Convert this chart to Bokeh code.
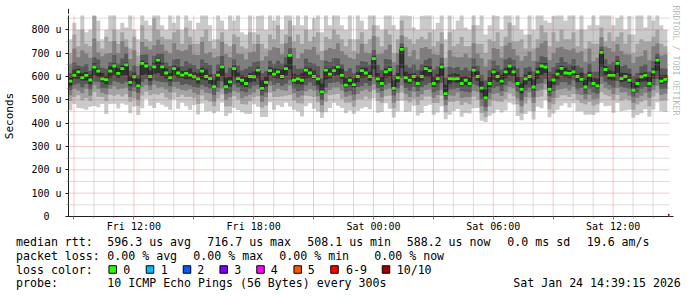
from bokeh.plotting import figure
from bokeh.models import Range1d, FixedTicker, Arrow, NormalHead, LinearAxis, Title
from bokeh.layouts import column
from bokeh.core.properties import value
from bokeh.embed import file_html
from bokeh.resources import INLINE

# ---- time axis (hours since Fri 00:00) ----
t0 = 8.7167          # Fri 08:43, first consolidated step
step_h = 0.2         # 12 minute steps
x_start, x_end = 8.725, 38.825
y_start, y_end = 0, 861.4

# ---- median RTT (microseconds) ----
median = [580,605,620,595,605,585,640,623,590,587,623,645,613,634,650,575,599,560,656,645,600,641,670,641,615,
          595,634,615,606,613,606,599,590,623,600,591,556,606,641,556,577,634,591,584,570,600,599,627,549,575,
          625,610,620,600,634,691,584,590,584,627,615,600,590,534,627,610,625,641,605,563,584,565,600,625,615,
          600,677,590,570,620,630,549,595,716,595,584,600,570,600,634,625,570,591,641,527,591,590,591,570,584,
          570,627,600,550,508,570,620,600,580,620,645,620,570,545,590,600,555,620,645,640,545,585,610,635,615,
          613,620,600,588,555,605,570,560,703,630,605,605,656,591,600,584,541,570,599,605,570,620,670,580,588]

# ---- sorted pings per step (smoke), microseconds ----
ping1 = [455,482,465,463,458,470,474,468,482,439,482,483,463,484,479,442,471,435,464,505,475,465,487,479,470,
         458,501,462,487,472,458,478,437,484,450,452,443,451,489,431,443,466,456,447,440,439,481,470,426,426,
         490,457,477,469,487,471,458,450,429,472,485,462,450,422,447,465,488,475,465,443,454,440,453,463,469,
         460,507,445,448,485,462,424,450,496,448,450,475,433,444,474,479,436,446,473,417,436,452,461,428,444,
         441,464,465,410,405,432,442,458,446,454,487,480,431,412,439,452,416,470,464,498,425,441,458,475,485,
         467,485,450,451,436,437,435,446,488,472,475,445,486,451,454,457,423,435,442,460,428,459,490,451,448]
ping2 = [495,512,520,498,508,495,534,513,512,494,522,518,523,514,524,492,506,475,519,535,520,525,522,529,510,
         503,531,512,522,512,513,508,482,519,500,492,473,506,524,471,473,516,501,482,480,494,511,515,466,476,
         530,512,512,514,517,521,498,485,484,517,515,512,490,447,492,520,523,525,505,488,489,470,503,503,514,
         505,542,495,488,515,517,464,495,531,498,490,505,478,499,514,514,486,486,518,447,491,492,496,478,489,
         481,514,500,444,425,472,497,493,491,504,527,515,481,442,484,507,451,510,514,543,460,481,508,520,520,
         512,525,500,486,481,492,475,481,533,522,515,500,521,496,504,497,458,480,492,500,473,514,530,496,498]
ping3 = [520,547,540,528,548,517,562,548,530,524,547,558,545,549,552,512,536,500,554,563,542,565,552,554,545,
         533,556,547,542,540,545,530,522,544,530,527,493,534,549,501,511,538,531,507,515,522,531,545,491,511,
         560,537,547,542,539,561,528,510,519,537,545,540,515,477,527,542,553,553,540,513,519,498,525,538,544,
         535,567,530,510,543,547,489,530,561,526,512,535,513,524,542,544,508,521,543,477,519,517,531,508,511,
         511,539,535,472,450,502,525,528,516,534,555,550,506,472,512,532,486,538,544,568,490,509,543,545,550,
         540,555,525,521,503,522,503,506,568,552,543,525,551,531,532,519,488,508,517,530,508,542,560,521,526]
ping4 = [542,565,570,553,568,545,577,578,550,549,565,580,575,569,577,540,554,530,576,588,562,583,580,576,575,
         558,576,577,564,568,563,555,552,564,556,549,521,552,579,526,531,566,553,537,533,547,561,565,519,533,
         580,565,572,560,569,586,548,538,541,562,575,560,543,499,552,572,573,578,568,535,539,523,555,560,572,
         560,597,550,538,565,572,519,550,596,551,540,555,538,554,564,572,533,541,573,499,544,545,551,538,536,
         533,567,560,502,470,530,550,558,538,562,580,572,536,497,540,552,511,568,572,590,515,537,563,575,575,
         565,583,545,551,525,547,531,526,598,577,565,553,581,556,552,547,513,530,547,555,536,562,590,546,548]
ping5 = [560,590,590,583,583,567,605,598,576,567,595,605,595,604,605,560,579,548,606,610,582,611,615,601,593,
         580,604,595,594,588,588,585,570,588,584,569,546,582,601,544,557,596,573,562,555,575,579,595,539,557,
         605,595,592,588,604,631,570,568,566,592,595,588,565,524,587,592,603,606,590,553,564,553,575,595,597,
         582,632,575,558,595,600,539,575,636,573,570,580,558,582,599,597,555,571,601,517,569,575,573,558,564,
         558,597,582,530,500,555,585,578,566,592,605,600,558,527,565,580,541,590,607,615,535,565,588,605,597,
         593,605,575,576,545,577,556,548,643,605,587,583,616,576,580,572,531,552,577,580,556,590,625,568,573]
ping6 = [595,630,632,615,619,607,658,633,615,603,643,657,635,649,660,603,617,590,668,659,626,659,680,657,635,
         615,648,640,624,625,634,619,614,638,630,609,586,622,653,596,599,648,617,604,598,615,621,639,584,600,
         639,635,632,630,652,701,612,605,614,639,635,626,604,569,637,634,643,653,633,593,600,593,618,637,637,
         620,689,615,600,635,642,584,615,726,620,612,615,600,622,646,643,602,611,655,565,607,614,611,600,602,
         595,642,622,580,543,598,632,620,608,635,655,642,600,570,608,620,587,635,657,658,580,610,630,647,637,
         627,645,612,616,585,620,595,590,713,644,627,623,668,616,615,612,573,590,614,617,598,635,680,605,606]
ping7 = [615,660,647,643,654,625,683,673,637,633,661,692,655,677,698,625,647,605,693,694,646,689,698,697,660,
         645,673,675,644,665,656,649,632,673,658,649,611,652,688,616,637,673,647,626,633,643,661,664,614,622,
         667,655,667,655,682,721,647,633,634,677,660,656,644,591,667,662,678,678,653,623,635,615,648,665,662,
         650,714,650,628,675,672,606,650,741,650,637,653,628,652,671,678,630,643,680,595,642,636,641,628,637,
         625,677,647,608,583,628,667,648,630,673,680,672,635,598,638,642,622,663,687,683,620,640,658,682,662,
         652,675,647,638,613,655,620,620,728,674,652,661,688,644,650,634,603,615,644,652,620,665,698,635,634]
ping8 = [655,720,682,713,699,680,763,703,687,698,701,752,700,752,728,675,712,645,748,729,716,734,758,737,710,
         700,743,715,709,715,736,694,692,748,698,704,681,687,748,696,682,738,697,696,673,703,706,739,669,687,
         712,725,722,695,742,771,722,678,699,717,715,726,694,671,712,722,718,743,708,693,680,675,698,740,702,
         700,774,695,698,715,737,661,700,776,725,687,713,673,722,726,718,695,693,740,640,712,686,681,683,697,
         680,742,697,678,643,673,722,718,680,733,745,717,690,668,688,707,667,723,742,753,670,700,723,727,717,
         712,720,702,708,663,720,665,680,768,729,722,706,738,709,695,694,658,685,689,712,670,730,743,690,694]
ping9 = [700,780,730,800,740,730,860,750,720,770,750,800,740,790,760,720,770,690,820,760,750,850,800,770,760,
         760,790,800,740,810,770,740,740,770,800,750,720,760,790,740,730,780,770,730,720,790,740,780,740,720,
         780,760,820,740,780,840,750,780,740,800,750,770,790,710,770,760,800,780,760,730,760,710,760,790,740,
         760,820,770,730,800,780,700,760,840,770,760,740,760,770,760,790,730,750,790,680,790,730,740,770,730,
         730,820,740,740,700,760,750,790,730,770,830,750,750,760,720,780,720,760,820,790,730,790,750,800,760,
         760,790,730,800,720,750,740,740,810,750,790,750,770,790,740,780,700,740,760,750,750,770,800,740,730]
ping10 = [760,830,800,880,790,800,880,840,760,800,880,880,800,830,810,880,800,760,880,840,820,880,880,820,800,
          880,830,880,800,880,840,800,830,880,880,820,760,880,840,800,880,840,880,790,780,880,790,860,880,800,
          880,840,880,800,880,880,820,880,820,880,800,850,880,790,880,820,880,880,820,800,880,760,880,840,800,
          880,880,820,800,880,880,820,800,880,880,860,810,800,860,880,880,800,830,880,760,880,800,840,880,810,
          800,880,820,880,780,820,880,860,800,880,880,820,880,800,780,880,800,880,880,840,830,860,880,880,840,
          880,880,800,880,800,820,880,820,880,880,880,820,850,880,800,860,780,880,880,810,880,840,880,820,800]

# ---- axes ticks / labels ----
x_major = [9, 12, 15, 18, 21, 24, 27, 30, 33, 36]
x_minor = [10, 11, 13, 14, 16, 17, 19, 20, 22, 23, 25, 26, 28, 29, 31, 32, 34, 35, 37, 38]
x_labels = {12: "Fri 12:00", 18: "Fri 18:00", 24: "Sat 00:00", 30: "Sat 06:00", 36: "Sat 12:00"}
y_major = [0, 100, 200, 300, 400, 500, 600, 700, 800]
y_minor = [50, 150, 250, 350, 450, 550, 650, 750, 850]
y_labels = {0: "0\u00a0\u00a0", 100: "100 u", 200: "200 u", 300: "300 u", 400: "400 u",
            500: "500 u", 600: "600 u", 700: "700 u", 800: "800 u"}

smoke_colors = ["#cacaca", "#a4a4a4", "#7e7e7e", "#585858", "#323232"]
loss_labels = ["0", "1", "2", "3", "4", "5", "6-9", "10/10"]
loss_colors = ["#26ff00", "#00b8ff", "#0059ff", "#7e00ff", "#ff00ff", "#ff5500", "#ff0000", "#a10000"]

MONO = "DejaVu Sans Mono"
MGRID, GRID = "#de4f4f", "#8f8f8f"
N = len(median)
x_edges = [t0 + i * step_h for i in range(N + 1)]
def ext(a):
    return list(a) + [a[-1]]

p = figure(width=697, height=236, x_range=Range1d(x_start, x_end), y_range=Range1d(y_start, y_end),
           output_backend="svg", toolbar_location=None,
           min_border_left=67, min_border_right=28, min_border_top=15, min_border_bottom=20)
p.frame_align = False
p.outline_line_color = None
p.background_fill_color = "white"
p.border_fill_color = "white"
p.grid.visible = False

pairs = [(ping1, ping10), (ping2, ping9), (ping3, ping8), (ping4, ping7), (ping5, ping6)]
for (lo, hi), c in zip(pairs, smoke_colors):
    p.varea_step(x=x_edges, y1=ext(lo), y2=ext(hi), step_mode="after", fill_color=c)

p.step(x=x_edges, y=ext(median), mode="after", line_color="#202020", line_width=1)
sw = 6
p.varea_step(x=x_edges, y1=ext([v - sw for v in median]), y2=ext([v + sw for v in median]),
             step_mode="after", fill_color=loss_colors[0])

# dotted rrdtool-style grid, drawn on top of the smoke
p.segment(x0=x_minor, y0=[y_start] * len(x_minor), x1=x_minor, y1=[y_end] * len(x_minor),
          line_color=GRID, line_alpha=0.6, line_dash="1 1", line_width=1)
p.segment(x0=[x_start] * len(y_minor), y0=y_minor, x1=[x_end] * len(y_minor), y1=y_minor,
          line_color=GRID, line_alpha=0.6, line_dash="1 1", line_width=1)
p.segment(x0=x_major, y0=[y_start] * len(x_major), x1=x_major, y1=[y_end] * len(x_major),
          line_color=MGRID, line_alpha=0.6, line_dash="1 1", line_width=1)
p.segment(x0=[x_start] * 8, y0=y_major[1:], x1=[x_end] * 8, y1=y_major[1:],
          line_color=MGRID, line_alpha=0.6, line_dash="1 1", line_width=1)

# axes
p.xaxis.ticker = FixedTicker(ticks=x_major, minor_ticks=x_minor)
p.xaxis.major_label_overrides = {k: x_labels.get(k, "") for k in x_major}
p.yaxis.ticker = FixedTicker(ticks=y_major, minor_ticks=y_minor)
p.yaxis.major_label_overrides = y_labels
for ax in (p.xaxis[0], p.yaxis[0]):
    ax.axis_line_color = "#1f1f1f"
    ax.major_label_text_font = MONO
    ax.major_label_text_font_size = "10px"
    ax.major_label_text_color = "#000000"
    ax.major_tick_in = 0
    ax.major_tick_out = 3
    ax.minor_tick_in = 0
    ax.minor_tick_out = 2
    ax.minor_tick_line_color = GRID
    ax.minor_tick_line_alpha = 0.6
p.xaxis.major_tick_line_color = MGRID
p.yaxis.major_tick_line_color = "#1f1f1f"
p.xaxis.major_label_standoff = 1
p.yaxis.major_label_standoff = 4
p.yaxis.axis_label = "Seconds"
p.yaxis.axis_label_text_font = MONO
p.yaxis.axis_label_text_font_size = "11px"
p.yaxis.axis_label_text_font_style = "normal"
p.yaxis.axis_label_text_color = "#000000"
p.yaxis.axis_label_standoff = 12

# empty right-hand axis used only as a spacer, then the watermark title beyond it
spacer = LinearAxis(ticker=FixedTicker(ticks=[]), axis_line_color=None,
                    major_tick_line_color=None, minor_tick_line_color=None,
                    major_tick_out=8, major_tick_in=0, minor_tick_out=0, minor_tick_in=0,
                    major_label_standoff=0, major_label_text_font_size="0px")
p.add_layout(spacer, "right")
p.add_layout(Title(text="RRDTOOL / TOBI OETIKER", align="left", offset=-10,
                   text_font=MONO, text_font_size="8.3px", text_font_style="normal",
                   text_color="#000000", text_alpha=0.3, standoff=2), "right")

arrow_c = "#801f1f"
p.add_layout(Arrow(end=NormalHead(size=5, fill_color=arrow_c, line_color=arrow_c),
                   x_start=x_start, y_start=y_end, x_end=x_start, y_end=890,
                   line_color="#1f1f1f", line_width=1))
p.add_layout(Arrow(end=NormalHead(size=5, fill_color=arrow_c, line_color=arrow_c),
                   x_start=x_end, y_start=0, x_end=39.025, y_end=0,
                   line_color="#1f1f1f", line_width=1))

# ---- legend area ----
leg = figure(width=697, height=61, x_range=Range1d(0, 697), y_range=Range1d(297, 236),
             output_backend="svg", toolbar_location=None, min_border=0,
             x_axis_location=None, y_axis_location=None)
leg.frame_align = False
leg.grid.visible = False
leg.outline_line_color = None
leg.background_fill_color = "white"
leg.border_fill_color = "white"

rows_y = [241.7, 255.3, 269.0, 282.7]
texts = ["median rtt:", "596.3 us avg", "716.7 us max", "508.1 us min", "588.2 us now", "0.0 ms sd", "19.6   am/s",
         "packet loss:", "0.00 % avg", "0.00 % max", "0.00 % min", "0.00 % now",
         "loss color:",
         "probe:", "10 ICMP Echo Pings (56 Bytes) every 300s", "Sat Jan 24 14:39:15 2026"]
tx = [15.5, 106.8, 206.8, 306.8, 406.2, 506.8, 586.2,
      15.5, 106.8, 192.8, 278.8, 373.8,
      15.5,
      15.5, 106.8, 512.8]
ty = [rows_y[0]] * 7 + [rows_y[1]] * 5 + [rows_y[2]] + [rows_y[3]] * 3
loss_text_x = [122.8, 160.2, 196.8, 233.8, 270.2, 307.2, 345.5, 396.2]
loss_box_x = [112.2, 149.5, 186.5, 223.2, 260.0, 297.2, 334.0, 385.5]
leg.text(x=tx + loss_text_x, y=ty + [rows_y[2]] * len(loss_labels), text=texts + loss_labels,
         text_font=value(MONO), text_font_size="11.6px", text_color="#000000",
         text_align="left", text_baseline="middle")
leg.rect(x=loss_box_x, y=[rows_y[2]] * len(loss_colors), width=7.5, height=7.5,
         fill_color=loss_colors, line_color="#000000", line_width=1)

layout = column(p, leg, spacing=0)
open("out.html", "w").write(file_html(layout, INLINE))
